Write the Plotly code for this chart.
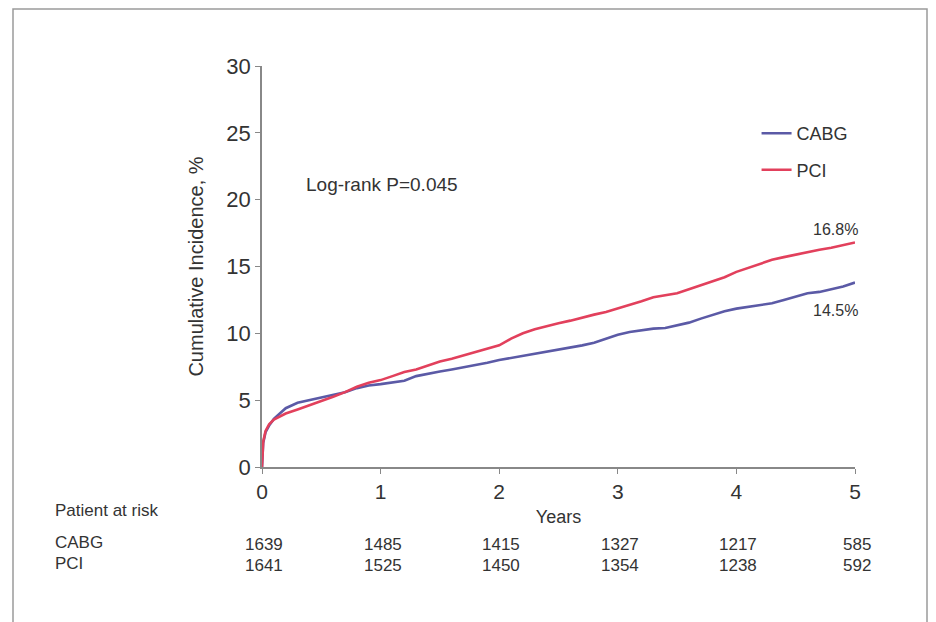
import plotly.graph_objects as go

years = [0, 0.01, 0.03, 0.06, 0.1, 0.15, 0.2, 0.3, 0.4, 0.5, 0.6, 0.7, 0.8, 0.9,
         1.0, 1.1, 1.2, 1.3, 1.4, 1.5, 1.6, 1.7, 1.8, 1.9,
         2.0, 2.1, 2.2, 2.3, 2.4, 2.5, 2.6, 2.7, 2.8, 2.9,
         3.0, 3.1, 3.2, 3.3, 3.4, 3.5, 3.6, 3.7, 3.8, 3.9,
         4.0, 4.1, 4.2, 4.3, 4.4, 4.5, 4.6, 4.7, 4.8, 4.9, 5.0]

cabg = [0, 1.8, 2.6, 3.1, 3.6, 4.0, 4.4, 4.8, 5.0, 5.2, 5.4, 5.6, 5.9, 6.1,
        6.2, 6.3, 6.45, 6.8, 7.0, 7.15, 7.3, 7.45, 7.6, 7.8,
        8.0, 8.15, 8.35, 8.5, 8.6, 8.8, 8.95, 9.1, 9.3, 9.6,
        9.9, 10.1, 10.25, 10.35, 10.4, 10.6, 10.8, 11.1, 11.4, 11.65,
        11.85, 12.0, 12.1, 12.25, 12.5, 12.75, 13.0, 13.1, 13.3, 13.5, 13.8]

pci = [0, 1.9, 2.7, 3.2, 3.55, 3.8, 4.0, 4.3, 4.6, 4.9, 5.25, 5.6, 6.0, 6.3,
       6.5, 6.8, 7.1, 7.3, 7.6, 7.9, 8.1, 8.35, 8.6, 8.85,
       9.1, 9.6, 10.0, 10.3, 10.55, 10.75, 10.95, 11.2, 11.4, 11.6,
       11.85, 12.1, 12.4, 12.7, 12.85, 13.0, 13.3, 13.6, 13.9, 14.2,
       14.6, 14.9, 15.2, 15.5, 15.7, 15.9, 16.1, 16.25, 16.4, 16.6, 16.8]

risk_years = [0, 1, 2, 3, 4, 5]
risk_cabg = [1639, 1485, 1415, 1327, 1217, 585]
risk_pci = [1641, 1525, 1450, 1354, 1238, 592]

end_labels = ["16.8%", "14.5%"]

BLUE = "#5b5aa6"
RED = "#e2405c"
TXT = "#333333"
FONT = "Liberation Sans, Arial, sans-serif"

# plot area in page pixels: x 262..855, y 66..467 (page has an 8px body offset)
X0, X1, Y0, Y1 = 262, 855, 66, 467


def py(pix):
    return (Y1 - pix) / float(Y1 - Y0)


def pxx(pix):
    return (pix - X0) / float(X1 - X0)


fig = go.Figure()
fig.add_trace(go.Scatter(x=years, y=cabg, mode="lines", name="CABG",
                         legendgroup="a", line=dict(color=BLUE, width=2.6)))
fig.add_trace(go.Scatter(x=years, y=pci, mode="lines", name="PCI",
                         legendgroup="b", line=dict(color=RED, width=2.6)))

ann = []
ann.append(dict(x=pxx(304), y=py(185), xref="paper", yref="paper", text="Log-rank P=0.045",
                showarrow=False, xanchor="left", yanchor="middle",
                font=dict(size=19, color=TXT)))
ann.append(dict(x=pxx(860), y=py(229), xref="paper", yref="paper", text=end_labels[0],
                showarrow=False, xanchor="right", yanchor="middle",
                font=dict(size=16, color=TXT)))
ann.append(dict(x=pxx(860), y=py(310), xref="paper", yref="paper", text=end_labels[1],
                showarrow=False, xanchor="right", yanchor="middle",
                font=dict(size=16, color=TXT)))

ann.append(dict(x=pxx(53), y=py(510), xref="paper", yref="paper", text="Patient at risk",
                showarrow=False, xanchor="left", yanchor="middle",
                font=dict(size=17, color=TXT)))
ann.append(dict(x=pxx(53), y=py(542), xref="paper", yref="paper", text="CABG",
                showarrow=False, xanchor="left", yanchor="middle",
                font=dict(size=17, color=TXT)))
ann.append(dict(x=pxx(53), y=py(563), xref="paper", yref="paper", text="PCI",
                showarrow=False, xanchor="left", yanchor="middle",
                font=dict(size=17, color=TXT)))
for xv, c, p in zip(risk_years, risk_cabg, risk_pci):
    xc = pxx(X0 + (X1 - X0) * xv / 5.0 + 2)
    ann.append(dict(x=xc, y=py(544), xref="paper", yref="paper", text=str(c),
                    showarrow=False, xanchor="center", yanchor="middle",
                    font=dict(size=17, color=TXT)))
    ann.append(dict(x=xc, y=py(565), xref="paper", yref="paper", text=str(p),
                    showarrow=False, xanchor="center", yanchor="middle",
                    font=dict(size=17, color=TXT)))

shapes = [dict(type="rect", xref="paper", yref="paper",
               x0=pxx(13), x1=pxx(927), y0=py(660), y1=py(9),
               line=dict(color="#9a9a9a", width=1.5), fillcolor="rgba(0,0,0,0)")]

fig.update_layout(
    width=936, height=622,
    margin=dict(l=X0 - 8, r=936 + 8 - X1, t=Y0 - 8, b=622 + 8 - Y1),
    paper_bgcolor="white", plot_bgcolor="white",
    font=dict(family=FONT, color=TXT),
    showlegend=True,
    legend=dict(x=0.834, y=0.8775, xanchor="left", yanchor="top",
                bgcolor="rgba(0,0,0,0)", font=dict(size=18, color=TXT),
                tracegroupgap=10, itemwidth=30),
    annotations=ann,
    shapes=shapes,
    xaxis=dict(range=[0, 5], tickvals=[0, 1, 2, 3, 4, 5], showgrid=False, zeroline=False,
               showline=True, linecolor="#888888", linewidth=1.5,
               ticks="outside", ticklen=5, tickcolor="#888888",
               tickfont=dict(size=21, color=TXT),
               title=dict(text="Years", font=dict(size=18, color=TXT), standoff=8)),
    yaxis=dict(range=[0, 30], tickvals=[0, 5, 10, 15, 20, 25, 30], showgrid=False, zeroline=False,
               showline=True, linecolor="#888888", linewidth=1.5,
               ticks="outside", ticklen=5, tickcolor="#888888",
               tickfont=dict(size=22, color=TXT),
               title=dict(text="Cumulative Incidence, %", font=dict(size=20, color=TXT), standoff=17)),
)

fig.write_html("out.html")
